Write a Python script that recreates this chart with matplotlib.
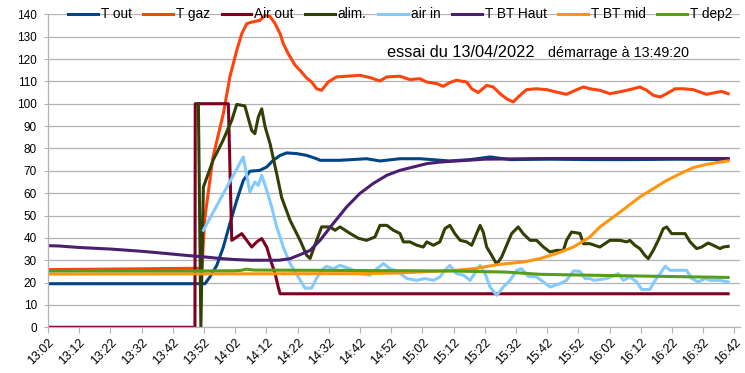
import matplotlib
matplotlib.use("Agg")
import matplotlib.pyplot as plt

plt.rcParams['font.family'] = ['Liberation Sans', 'DejaVu Sans']

# time axis: minutes after 13:02
tick_minutes = list(range(0, 221, 10))
tick_labels = ["13:02", "13:12", "13:22", "13:32", "13:42", "13:52", "14:02", "14:12",
               "14:22", "14:32", "14:42", "14:52", "15:02", "15:12", "15:22", "15:32",
               "15:42", "15:52", "16:02", "16:12", "16:22", "16:32", "16:42"]

t_out_t = [0, 50.3, 51.9, 54.1, 56.2, 58.3, 60.5, 62.6, 64.7, 67.9, 70.1, 72.2, 74.4, 76.5,
           79.7, 82.9, 86.1, 87.2, 93.6, 102.1, 106.4, 112.8, 119.2, 128.8, 135.3, 141.7,
           148.1, 160.9, 173.7, 186.5, 202.6, 218.0]
t_out_v = [19.5, 19.5, 22.5, 27.7, 35.9, 46.4, 56.8, 65.7, 69.8, 70.2, 71.7, 74.7, 76.9, 78.0,
           77.7, 76.9, 75.4, 74.7, 74.7, 75.4, 74.4, 75.4, 75.4, 74.4, 75.0, 76.2,
           75.0, 75.2, 75.0, 75.0, 75.2, 75.0]

t_gaz_t = [0, 49.3, 50.3, 52.9, 56.2, 58.3, 60.5, 62.1, 63.7, 65.3, 67.9, 69.6, 71.2, 72.8,
           74.4, 75.4, 77.0, 79.2, 80.8, 82.9, 84.5, 86.1, 87.7, 89.8, 92.5, 96.8, 100.0,
           103.2, 106.4, 108.6, 112.8, 116.0, 119.2, 121.4, 124.6, 126.7, 128.8, 130.9,
           134.2, 135.8, 137.9, 140.6, 142.7, 144.9, 147.0, 149.1, 151.3, 153.4, 156.6,
           159.8, 163.0, 166.2, 169.5, 171.6, 173.7, 176.9, 180.1, 182.8, 185.5, 187.6,
           189.7, 191.9, 194.0, 196.2, 198.3, 201.0, 203.6, 206.8, 209.0, 211.1, 213.2,
           215.9, 218.0]
t_gaz_v = [25.8, 26.4, 49.3, 76.2, 95.6, 112.0, 123.9, 131.3, 135.8, 136.5, 137.3, 139.5,
           139.0, 135.8, 131.3, 126.9, 122.4, 117.2, 114.9, 111.5, 109.7, 106.7, 106.0,
           109.7, 112.0, 112.4, 112.7, 111.7, 110.2, 112.0, 112.3, 110.8, 111.2, 109.7,
           109.0, 107.8, 109.5, 110.5, 109.7, 106.7, 105.0, 108.2, 107.5, 104.5, 102.2,
           100.8, 103.8, 106.3, 106.7, 106.3, 105.2, 104.2, 106.3, 107.5, 106.7, 106.0,
           104.5, 105.2, 106.0, 106.7, 107.5, 106.0, 103.8, 103.0, 104.5, 106.7, 106.7,
           106.3, 105.2, 104.2, 104.8, 105.5, 104.5]

air_out_t = [0, 47.1, 47.2, 57.8, 58.9, 60.5, 62.1, 63.7, 65.3, 66.9, 68.5, 70.1, 71.7,
             72.8, 73.8, 74.4, 218.0]
air_out_v = [0, 0, 100, 100, 38.9, 40.4, 41.9, 38.9, 35.9, 38.2, 39.7, 35.9, 28.5,
             24.0, 18.0, 15.0, 15.0]

alim_t = [48.2, 49.0, 49.8, 52.9, 56.1, 58.9, 60.5, 63.1, 64.1, 65.3, 66.3, 67.4, 68.5,
          69.6, 71.2, 73.3, 74.9, 77.6, 80.8, 82.9, 84.0, 86.1, 87.7, 90.4, 92.0, 93.6,
          96.8, 99.5, 102.1, 104.8, 106.4, 108.6, 110.7, 112.8, 113.9, 116.0, 118.2,
          120.3, 121.4, 123.5, 125.6, 127.2, 128.8, 130.4, 132.1, 134.2, 135.8, 137.4,
          138.5, 139.5, 140.6, 142.2, 143.8, 145.4, 147.0, 148.6, 150.7, 152.3, 154.5,
          156.6, 158.8, 160.9, 163.0, 165.2, 166.2, 167.8, 170.5, 171.6, 173.7, 176.9,
          180.1, 183.3, 185.5, 186.5, 188.1, 189.7, 191.3, 192.4, 194.0, 195.6, 197.2,
          198.3, 199.9, 202.6, 204.2, 205.8, 207.9, 209.5, 211.6, 213.2, 215.4, 216.4, 218.0]
alim_v = [100, 0, 62.7, 74.7, 83.6, 92.6, 99.7, 99.0, 94.0, 88.0, 86.6, 94.0, 97.7,
          89.6, 82.0, 68.7, 58.0, 47.8, 38.9, 32.2, 30.8, 38.9, 44.9, 44.9, 43.4, 44.9,
          42.0, 39.8, 38.9, 40.4, 45.6, 45.6, 43.4, 42.0, 38.2, 38.2, 36.7,
          35.9, 38.2, 36.7, 38.2, 44.1, 45.6, 41.9, 38.9, 38.2, 36.7, 42.0,
          45.6, 42.6, 35.9, 32.2, 28.2, 31.4, 36.7, 41.9, 44.9, 41.9, 38.9,
          38.9, 35.9, 33.7, 34.4, 34.4, 38.9, 42.6, 42.0, 37.4, 37.4, 35.9,
          38.9, 38.9, 38.2, 38.9, 36.7, 35.2, 32.2, 30.7, 34.4, 38.9, 44.1,
          44.9, 41.9, 41.9, 41.9, 38.2, 35.2, 35.9, 37.7, 36.7, 35.2, 35.9, 36.2]

air_in_t = [49.8, 62.6, 64.7, 66.3, 67.4, 68.5, 70.1, 71.7, 73.3, 75.4, 77.6, 80.2, 82.4,
            84.5, 86.1, 87.7, 89.3, 91.4, 93.6, 96.8, 100.0, 103.2, 105.4, 107.5, 109.6,
            111.8, 115.0, 118.2, 120.8, 123.5, 125.6, 127.2, 128.8, 130.9, 133.1, 135.3,
            137.4, 138.5, 140.1, 141.7, 143.8, 145.9, 148.1, 150.2, 151.8, 153.9, 156.6,
            158.8, 160.9, 164.1, 166.2, 168.4, 170.5, 172.1, 173.7, 175.0, 179.1, 182.8,
            184.4, 186.5, 188.7, 190.3, 192.9, 194.6, 196.2, 197.8, 199.4, 202.6, 204.7,
            206.3, 208.4, 210.6, 212.2, 215.4, 218.0]
air_in_v = [43.4, 76.2, 60.5, 65.0, 63.5, 68.0, 61.3, 53.8, 44.9, 35.9, 28.5, 22.5, 17.5,
            17.5, 22.0, 25.5, 27.3, 26.2, 27.7, 26.2, 24.0, 23.3, 26.2, 28.5, 26.2,
            25.2, 21.8, 21.0, 21.8, 21.0, 22.5, 25.5, 27.7, 24.0, 23.3, 21.0,
            25.5, 27.7, 24.0, 18.0, 14.3, 18.0, 21.0, 25.5, 26.2, 22.8, 22.5,
            20.3, 18.0, 19.5, 21.0, 25.2, 25.0, 21.8, 21.8, 21.0, 21.8, 24.0,
            21.0, 22.5, 20.3, 16.9, 16.9, 21.0, 24.0, 27.3, 25.5, 25.5, 25.5,
            21.8, 20.3, 21.8, 21.0, 21.0, 20.3]

bt_haut_t = [0, 3.2, 10, 20, 30, 38, 44, 50, 55, 60, 65, 74, 77.6, 80.8, 84.0, 87.2, 91.4,
             95.7, 99.9, 104.2, 108.6, 112.8, 117.1, 121.4, 125.6, 128.8, 140, 160, 190, 218]
bt_haut_v = [36.5, 36.4, 35.7, 35.0, 34.0, 33.0, 32.2, 31.5, 30.8, 30.3, 30.0, 30.0, 30.7,
             32.5, 34.4, 38.9, 46.4, 53.8, 59.8, 64.3, 68.0, 70.2, 71.7, 73.2, 73.9, 74.2,
             75.2, 75.5, 75.5, 75.5]

bt_mid_t = [0, 100, 112.8, 120, 128.8, 136.3, 144.9, 152.3, 157.7, 163.0, 168.4, 173.7,
            176.9, 181.2, 185.5, 189.7, 194.0, 198.3, 202.6, 206.8, 211.1, 215.4, 218.0]
bt_mid_v = [23.8, 24.0, 24.3, 24.8, 25.3, 26.2, 28.2, 29.2, 30.7, 33.0, 35.9, 40.4,
            44.9, 49.3, 53.8, 58.3, 62.0, 65.7, 68.7, 71.4, 72.9, 73.9, 74.4]

dep2_t = [0, 47, 60, 62, 63.5, 66, 100, 128.8, 147, 157.7, 173.7, 218]
dep2_v = [25.2, 25.2, 25.3, 25.5, 26.0, 25.6, 25.4, 25.2, 24.7, 23.7, 23.3, 22.3]

series = [
    ("T out", t_out_t, t_out_v, "#004586"),
    ("T gaz", t_gaz_t, t_gaz_v, "#ff420e"),
    ("Air out", air_out_t, air_out_v, "#7e0021"),
    ("alim.", alim_t, alim_v, "#314004"),
    ("air in", air_in_t, air_in_v, "#83caff"),
    ("T BT Haut", bt_haut_t, bt_haut_v, "#4b1f6f"),
    ("T BT mid", bt_mid_t, bt_mid_v, "#ff950e"),
    ("T dep2", dep2_t, dep2_v, "#579d1c"),
]

fig = plt.figure(figsize=(7.45, 3.73), dpi=100)
ax = fig.add_axes([48/745, 1-327.3/373, (740-48)/745, (327.3-14.3)/373])

for name, tt, vv, col in series:
    ax.plot(tt, vv, color=col, lw=2.2, label=name, solid_joinstyle='round')

ax.set_xlim(0, 221.8)
ax.set_ylim(0, 140)
ax.set_yticks(range(0, 141, 10))
ax.set_xticks(tick_minutes)
ax.set_xticklabels(tick_labels, rotation=45, ha='right', va='top', rotation_mode='anchor')
ax.yaxis.grid(True, color='#b3b3b3', lw=0.9)
ax.set_axisbelow(True)
for s in ['top', 'right']:
    ax.spines[s].set_visible(False)
for s in ['left', 'bottom']:
    ax.spines[s].set_color('#b3b3b3')
    ax.spines[s].set_linewidth(0.9)
ax.tick_params(axis='y', length=3, color='#b3b3b3', labelsize=8.5, pad=5)
ax.tick_params(axis='x', length=4.5, color='#b3b3b3', labelsize=9, pad=2)

ax.legend(loc='center', bbox_to_anchor=(0.509, 1.0), ncol=8, frameon=False,
          fontsize=9.8, handlelength=2.2, handletextpad=0.2, columnspacing=0.85,
          borderaxespad=0)

ax.text(0.490, 121.0, "essai du 13/04/2022", transform=ax.get_yaxis_transform(),
        fontsize=11.8, va='baseline', ha='left')
ax.text(0.7222, 121.0, "démarrage à 13:49:20", transform=ax.get_yaxis_transform(),
        fontsize=10.3, va='baseline', ha='left')

fig.savefig("out.png", dpi=100)
